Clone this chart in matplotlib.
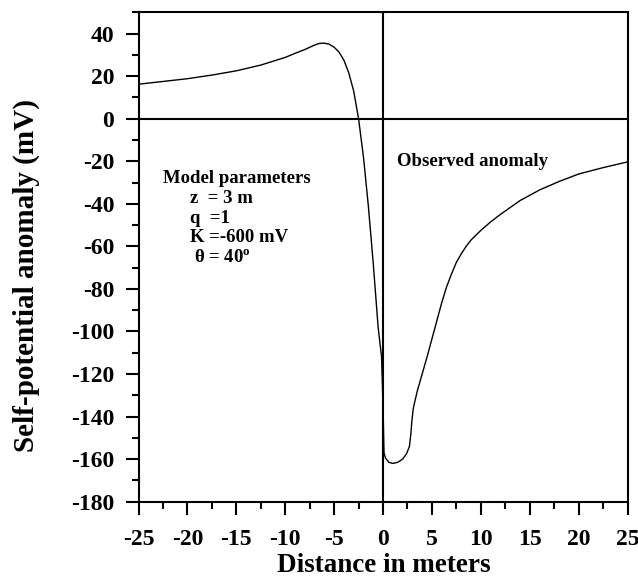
import numpy as np
import matplotlib
matplotlib.use('Agg')
from matplotlib import pyplot as plt
from matplotlib.ticker import MultipleLocator

# distance (m) and self-potential anomaly (mV)
distance = [-25, -22.5, -20, -17.5, -15, -12.5, -10, -9, -8, -7, -6.5, -6, -5.5,
            -5, -4.5, -4, -3.5, -3, -2.5, -2, -1.5, -1, -0.5, -0.15, 0,
            0.1, 0.25, 0.6, 1, 1.5, 2, 2.4, 2.7, 2.85, 2.95, 3.1, 3.5, 4,
            4.5, 5, 5.5, 6, 6.5, 7, 7.5, 8, 8.5, 9, 10, 11, 12, 14, 16, 18, 20, 22.5, 25]
anomaly = [16.2, 17.5, 18.8, 20.5, 22.5, 25.2, 28.8, 30.7, 32.5, 34.6, 35.4, 35.5, 35.0,
           33.6, 31.3, 27.5, 21.5, 13.0, 0.0, -18.0, -41.0, -68.0, -98.0, -112.0, -135.0,
           -157.0, -159.5, -161.5, -162.0, -161.5, -160.0, -157.5, -154.0, -148.0, -142.0, -136.0, -128.0, -120.0,
           -112.0, -103.5, -95.0, -86.5, -79.0, -73.0, -67.5, -63.5, -60.0, -57.0, -52.5, -48.5, -45.0,
           -38.5, -33.5, -29.5, -26.0, -23.0, -20.3]

x_ticks = [-25, -20, -15, -10, -5, 0, 5, 10, 15, 20, 25]
y_ticks = [-180, -160, -140, -120, -100, -80, -60, -40, -20, 0, 20, 40]

params = ['z  = 3 m', 'q  =1', 'K =-600 mV', r'$\theta$ = 40$^{\mathbf{o}}$']

plt.rcParams['font.family'] = ['Liberation Serif', 'DejaVu Serif']
plt.rcParams['font.weight'] = 'bold'
plt.rcParams['axes.unicode_minus'] = False
plt.rcParams['mathtext.fontset'] = 'custom'
plt.rcParams['mathtext.rm'] = 'Liberation Serif:bold'
plt.rcParams['mathtext.it'] = 'Liberation Serif:bold'
plt.rcParams['mathtext.bf'] = 'Liberation Serif:bold'

fig = plt.figure(figsize=(6.38, 5.78), dpi=100)
ax = fig.add_axes([0.2171, 0.132, 0.7665, 0.8467])

ax.plot(distance, anomaly, color='black', lw=1.0)
ax.axhline(0, color='black', lw=1.5)
ax.axvline(0, color='black', lw=1.5)

ax.set_xlim(-25, 25)
ax.set_ylim(-180, 50)
ax.set_xticks(x_ticks)
ax.set_yticks(y_ticks)
ax.xaxis.set_minor_locator(MultipleLocator(2.5))
ax.yaxis.set_minor_locator(MultipleLocator(10))
ax.tick_params(which='major', direction='out', length=9.5, width=1.5,
               labelsize=17, top=False, right=False)
ax.tick_params(axis='y', which='major', pad=8)
ax.tick_params(axis='x', which='major', pad=10)
ax.tick_params(which='minor', direction='out', length=5, width=1.5,
               top=False, right=False)
for s in ax.spines.values():
    s.set_linewidth(1.5)

ax.set_xlabel('Distance in meters', fontsize=19.5, fontweight='bold', va='baseline')
ax.xaxis.set_label_coords(0.502, -0.143)
ax.set_ylabel('Self-potential anomaly (mV)', fontsize=21, fontweight='bold', va='center')
ax.yaxis.set_label_coords(-0.230, 0.463)

ax.text(0.051, 0.651, 'Model parameters', transform=ax.transAxes,
        fontsize=13.5, fontweight='bold')
ys = [0.610, 0.570, 0.531, 0.490]
xs = [0.105, 0.105, 0.105, 0.114]
for t, xx, yy in zip(params, xs, ys):
    ax.text(xx, yy, t, transform=ax.transAxes, fontsize=13.5, fontweight='bold')

ax.text(0.529, 0.686, 'Observed anomaly', transform=ax.transAxes,
        fontsize=13.5, fontweight='bold')

fig.savefig('out.png', dpi=100)
